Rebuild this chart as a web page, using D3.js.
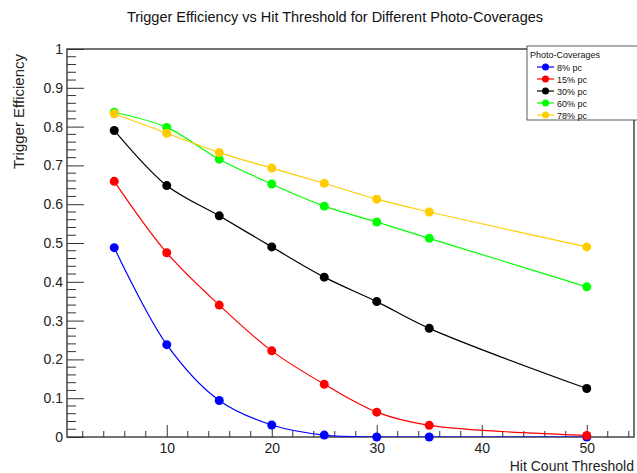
<!DOCTYPE html>
<html>
<head>
<meta charset="utf-8">
<script src="https://cdnjs.cloudflare.com/ajax/libs/d3/7.8.5/d3.min.js"></script>
<style>
  body { margin: 0; background: #fff; }
  svg { font-family: "Liberation Sans", Arial, sans-serif; }
</style>
</head>
<body>
<div id="chart"></div>
<script>
// hit count thresholds and trigger efficiency per photo-coverage
const thresholds = [5, 10, 15, 20, 25, 30, 35, 50];
const pc8  = [0.488, 0.238, 0.094, 0.031, 0.005, 0.0, 0.0, 0.0];
const pc15 = [0.659, 0.475, 0.340, 0.222, 0.136, 0.064, 0.030, 0.004];
const pc30 = [0.790, 0.648, 0.570, 0.490, 0.412, 0.349, 0.280, 0.125];
const pc60 = [0.837, 0.798, 0.716, 0.652, 0.595, 0.554, 0.512, 0.387];
const pc78 = [0.833, 0.783, 0.733, 0.693, 0.654, 0.613, 0.580, 0.490];
const seriesNames = ["8% pc", "15% pc", "30% pc", "60% pc", "78% pc"];
const seriesColors = ["#0000ff", "#ff0000", "#000000", "#00ff00", "#ffcc00"];
const xTicks = [10, 20, 30, 40, 50];
const yTicks = [0, 0.1, 0.2, 0.3, 0.4, 0.5, 0.6, 0.7, 0.8, 0.9, 1];

const allSeries = [pc8, pc15, pc30, pc60, pc78];

let width = 637, height = 473;
let margin = { top: 49, right: 3, bottom: 36, left: 67 };
let w = width - margin.left - margin.right;
let h = height - margin.top - margin.bottom;

let svg = d3.select("#chart").append("svg")
    .attr("width", width)
    .attr("height", height);

let x = d3.scaleLinear().domain([0.5, 54.5]).range([0, w]);
let y = d3.scaleLinear().domain([0, 1]).range([h, 0]);

let g = svg.append("g")
    .attr("transform", "translate(" + margin.left + "," + margin.top + ")");

svg.append("text")
    .attr("x", 335)
    .attr("y", 22)
    .attr("text-anchor", "middle")
    .style("font-size", "14.5px")
    .attr("fill", "#111")
    .text("Trigger Efficiency vs Hit Threshold for Different Photo-Coverages");

g.append("defs").append("clipPath").attr("id", "clip")
    .append("rect").attr("width", w).attr("height", h);

// frame
g.append("rect")
    .attr("width", w).attr("height", h)
    .attr("fill", "none")
    .attr("stroke", "#444")
    .attr("stroke-width", 1.5);

// x axis: majors every 10, minors every 2
let xMinor = d3.range(2, 55, 2).filter(v => v % 10 !== 0);
let xAxis = g.append("g").attr("transform", "translate(0," + h + ")");
xAxis.call(d3.axisBottom(x).tickValues(xTicks).tickSizeInner(-12).tickSizeOuter(0).tickPadding(6).tickFormat(d3.format("d")));
xAxis.select(".domain").remove();
xAxis.selectAll(".tick line").attr("stroke", "#333");
xAxis.selectAll("text").style("font-size", "14px").attr("fill", "#222")
    .attr("font-family", "Liberation Sans, Arial, sans-serif");
xAxis.selectAll(".minor").data(xMinor).enter().append("line")
    .attr("class", "minor")
    .attr("x1", d => x(d)).attr("x2", d => x(d))
    .attr("y1", 0).attr("y2", -6)
    .attr("stroke", "#333");

// y axis: majors every 0.1, minors every 0.02
let yMinor = d3.range(0, 51).map(i => i / 50).filter((v, i) => i % 5 !== 0);
let yAxis = g.append("g");
yAxis.call(d3.axisLeft(y).tickValues(yTicks).tickSizeInner(-17).tickSizeOuter(0).tickPadding(4)
    .tickFormat(d => d === 0 || d === 1 ? d3.format("d")(d) : d3.format(".1f")(d)));
yAxis.select(".domain").remove();
yAxis.selectAll(".tick line").attr("stroke", "#333");
yAxis.selectAll("text").style("font-size", "14px").attr("fill", "#222")
    .attr("font-family", "Liberation Sans, Arial, sans-serif");
yAxis.selectAll(".minor").data(yMinor).enter().append("line")
    .attr("class", "minor")
    .attr("x1", 0).attr("x2", 9)
    .attr("y1", d => y(d)).attr("y2", d => y(d))
    .attr("stroke", "#333");

// axis titles
svg.append("text")
    .attr("x", margin.left + w)
    .attr("y", 471)
    .attr("text-anchor", "end")
    .style("font-size", "14px")
    .attr("fill", "#222")
    .text("Hit Count Threshold");

svg.append("text")
    .attr("transform", "translate(24,54) rotate(-90)")
    .attr("text-anchor", "end")
    .style("font-size", "15px")
    .attr("fill", "#222")
    .text("Trigger Efficiency");

// curves
let line = d3.line()
    .x(d => x(d.key))
    .y(d => y(d.value))
    .curve(d3.curveCatmullRom.alpha(0.5));

let plot = g.append("g").attr("clip-path", "url(#clip)");

allSeries.forEach((vals, k) => {
    let pts = thresholds.map((t, i) => ({ key: t, value: vals[i] }));
    plot.append("path")
        .datum(pts)
        .attr("fill", "none")
        .attr("stroke", seriesColors[k])
        .attr("stroke-width", 1.2)
        .attr("d", line);
});

allSeries.forEach((vals, k) => {
    let pts = thresholds.map((t, i) => ({ key: t, value: vals[i] }));
    g.append("g").selectAll("circle")
        .data(pts)
        .enter().append("circle")
        .attr("cx", d => x(d.key))
        .attr("cy", d => y(d.value))
        .attr("r", 4.5)
        .attr("fill", seriesColors[k]);
});

// legend
let lg = svg.append("g").attr("transform", "translate(527,46)");
lg.append("rect")
    .attr("width", 112).attr("height", 74)
    .attr("fill", "#fff")
    .attr("stroke", "#333")
    .attr("stroke-width", 0.8);
lg.append("text")
    .attr("x", 3).attr("y", 12)
    .style("font-size", "9px")
    .attr("fill", "#111")
    .text("Photo-Coverages");
seriesNames.forEach((name, k) => {
    let ly = 21 + k * 12;
    lg.append("line")
        .attr("x1", 10).attr("x2", 27)
        .attr("y1", ly).attr("y2", ly)
        .attr("stroke", seriesColors[k])
        .attr("stroke-width", 1.2);
    lg.append("circle")
        .attr("cx", 18.5).attr("cy", ly)
        .attr("r", 3.5)
        .attr("fill", seriesColors[k]);
    lg.append("text")
        .attr("x", 30).attr("y", ly + 3.5)
        .style("font-size", "9px")
        .attr("fill", "#111")
        .text(name);
});
</script>
</body>
</html>
